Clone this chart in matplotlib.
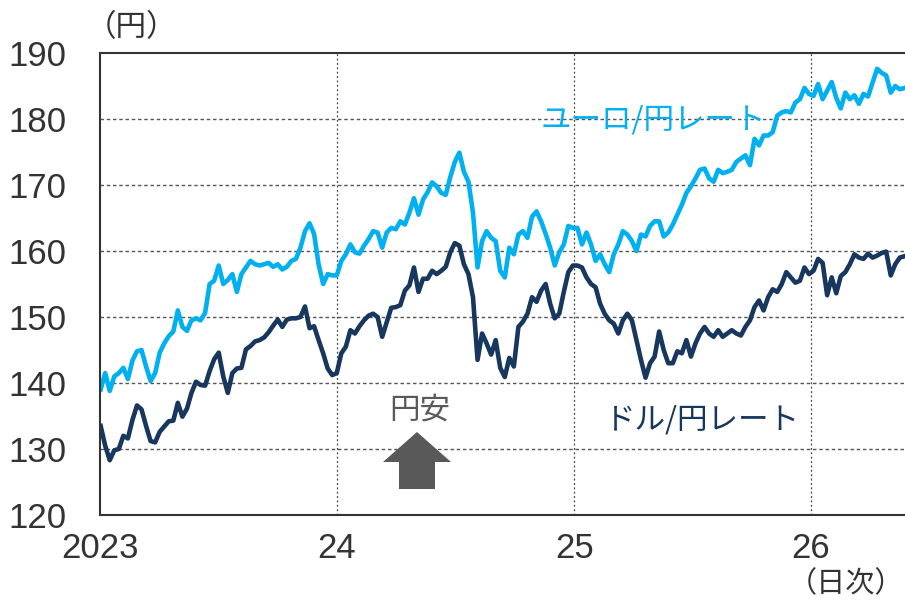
import numpy as np
import pandas as pd
import matplotlib
matplotlib.use("Agg")
import matplotlib.pyplot as plt
import matplotlib.patches as mpatches

# weekly readings (Mondays from 2023-01-02), yen
usd_jpy = [
    # 2023
    133.5, 130.5, 128.3, 129.8, 130.0, 132.0, 131.6, 134.4, 136.6, 136.0,
    133.5, 131.2, 131.0, 132.6, 133.4, 134.2, 134.3, 137.0, 134.9, 136.1,
    138.5, 140.2, 139.7, 139.6, 141.8, 143.6, 144.6, 141.0, 138.5, 141.5,
    142.2, 142.3, 145.1, 145.6, 146.3, 146.5, 146.9, 147.7, 148.7, 149.6,
    148.5, 149.6, 149.8, 149.8, 150.0, 151.6, 148.3, 148.6, 146.5, 144.5,
    142.2, 141.2,
    # 2024
    141.5, 144.5, 145.5, 148.0, 147.5, 148.6, 149.5, 150.2, 150.5, 150.0,
    147.0, 149.2, 151.4, 151.5, 151.8, 154.0, 154.8, 157.5, 153.8, 155.8,
    155.8, 157.0, 156.5, 157.0, 157.6, 159.8, 161.2, 160.8, 158.0, 156.5,
    153.0, 143.5, 147.5, 146.0, 144.3, 146.5, 142.3, 140.9, 143.8, 142.5,
    148.5, 149.3, 150.5, 153.0, 152.3, 154.0, 155.0, 152.0, 149.8, 150.5,
    153.8, 156.8, 157.8,
    # 2025
    157.8, 157.5, 156.0, 155.0, 154.5, 152.0, 150.5, 149.5, 149.0, 147.5,
    149.5, 150.5, 149.5, 146.5, 143.5, 140.8, 143.0, 144.0, 147.8, 145.0,
    143.0, 143.0, 144.8, 144.5, 146.5, 144.0, 146.0, 147.5, 148.5, 147.5,
    147.0, 148.0, 147.0, 147.5, 148.0, 147.5, 147.2, 148.5, 149.5, 151.5,
    152.5, 151.0, 153.0, 154.2, 153.8, 155.0, 156.8, 156.0, 155.2, 155.5,
    157.5, 156.5,
    # 2026
    157.0, 158.8, 158.2, 153.3, 156.0, 153.6, 156.2, 156.8, 158.0, 159.5,
    159.0, 158.8, 159.6, 159.0, 159.3, 159.7, 159.9, 156.3, 158.0, 159.0,
    159.2,
]

eur_jpy = [
    # 2023
    139.0, 141.5, 138.8, 141.0, 141.5, 142.3, 140.6, 143.4, 144.8, 145.0,
    142.5, 140.3, 141.5, 144.6, 146.0, 147.1, 147.8, 151.0, 148.5, 147.9,
    149.5, 149.8, 149.5, 150.6, 155.0, 155.5, 157.8, 155.0, 155.6, 156.5,
    153.8, 156.5, 157.5, 158.5, 158.0, 157.8, 158.0, 158.2, 157.6, 158.0,
    157.2, 157.6, 158.5, 158.8, 160.5, 163.0, 164.2, 162.6, 158.0, 155.0,
    156.5, 156.3,
    # 2024
    156.3, 158.5, 159.5, 161.0, 159.8, 159.6, 160.8, 161.8, 163.0, 162.8,
    160.5, 162.8, 163.5, 163.3, 164.5, 164.0, 165.8, 168.0, 165.5, 167.8,
    168.9, 170.4, 169.8, 168.8, 168.5, 171.2, 173.5, 174.9, 172.0, 170.5,
    165.8, 157.5, 161.5, 163.0, 162.0, 161.5, 157.0, 156.0, 160.5, 159.5,
    162.5, 163.0, 162.0, 165.2, 166.0, 164.5, 162.6, 160.5, 157.8, 159.8,
    161.0, 163.8, 163.5,
    # 2025
    163.5, 161.0, 162.8, 161.0, 158.5, 159.5, 158.0, 156.8, 159.5, 161.0,
    163.0, 162.5, 161.5, 160.0, 162.5, 162.2, 163.8, 164.5, 164.5, 162.2,
    162.8, 164.0, 165.5, 167.0, 168.8, 169.8, 171.0, 172.3, 172.5, 171.0,
    170.5, 172.3, 171.8, 172.0, 172.3, 173.5, 174.0, 174.5, 173.0, 177.0,
    176.0, 177.5, 177.5, 178.0, 180.5, 181.0, 181.2, 181.0, 182.5, 183.0,
    184.7, 183.8,
    # 2026
    183.5, 185.3, 183.0, 184.3, 185.6, 183.2, 181.6, 184.0, 183.0, 183.6,
    182.3, 183.8, 183.4, 185.5, 187.6, 187.0, 186.6, 184.0, 185.0, 184.5,
    184.7,
]

year_ticks = ["2023-01-01", "2024-01-01", "2025-01-01", "2026-01-01"]
year_labels = ["2023", "24", "25", "26"]
y_ticks = [120, 130, 140, 150, 160, 170, 180, 190]

dates = pd.date_range("2023-01-02", periods=len(usd_jpy), freq="7D")

num_font = ["Liberation Sans Narrow", "Liberation Sans", "DejaVu Sans"]
jp_font = ["Noto Sans CJK JP", "DejaVu Sans"]

light = "#00B0F0"
navy = "#17375E"
text_col = "#333333"

fig = plt.figure(figsize=(9.05, 6.01), dpi=100)
ax = fig.add_axes([100 / 905, 1 - 515 / 601, 805 / 905, 462 / 601])

ax.plot(dates, eur_jpy, color=light, lw=3.3, solid_joinstyle="round")
ax.plot(dates, usd_jpy, color=navy, lw=3.3, solid_joinstyle="round")

ax.set_xlim(pd.Timestamp("2023-01-01"), pd.Timestamp("2026-05-26"))
ax.set_ylim(120, 190)
ax.set_yticks(y_ticks)
ax.set_xticks(pd.to_datetime(year_ticks))
ax.set_xticklabels(year_labels)

for v in y_ticks[1:-1]:
    ax.axhline(v, color="#555555", lw=1.0, ls=(0, (2.5, 2)), zorder=0)
for d in year_ticks[1:]:
    ax.axvline(pd.Timestamp(d), color="#444444", lw=0.9, ls=(0, (1.5, 2)), zorder=0)

for s in ["left", "bottom", "top"]:
    ax.spines[s].set_color("#333333")
    ax.spines[s].set_linewidth(1.5)
ax.spines["right"].set_visible(False)

ax.tick_params(length=0, labelcolor=text_col)
ax.tick_params(axis="y", pad=24)
ax.tick_params(axis="x", pad=12)
for lab in ax.get_xticklabels() + ax.get_yticklabels():
    lab.set_family(num_font)
    lab.set_fontsize(25)

fig.text(131 / 905, 1 - 28 / 601, "（円）", family=jp_font, fontsize=22,
         color=text_col, ha="center", va="center")
fig.text(904 / 905, 1 - 584 / 601, "（日次）", family=jp_font, fontsize=21,
         color=text_col, ha="right", va="center")

ax.text(0.547, 0.855, "ユーロ/円レート", transform=ax.transAxes, family=jp_font,
        fontsize=22, color=light, ha="left", va="center")
ax.text(0.627, 0.206, "ドル/円レート", transform=ax.transAxes, family=jp_font,
        fontsize=22, color=navy, ha="left", va="center")
ax.text(0.3975, 0.227, "円安", transform=ax.transAxes, family=jp_font,
        fontsize=22, color="#595959", ha="center", va="center")

def px(x, y):
    return ((x - 100) / 805, (515 - y) / 462)

arrow_pts = [px(417, 432), px(451, 462), px(435, 462), px(435, 489),
             px(399, 489), px(399, 462), px(383, 462)]
ax.add_patch(mpatches.Polygon(arrow_pts, closed=True, transform=ax.transAxes,
                              facecolor="#595959", edgecolor="none", clip_on=False))

fig.savefig("out.png", dpi=100)
